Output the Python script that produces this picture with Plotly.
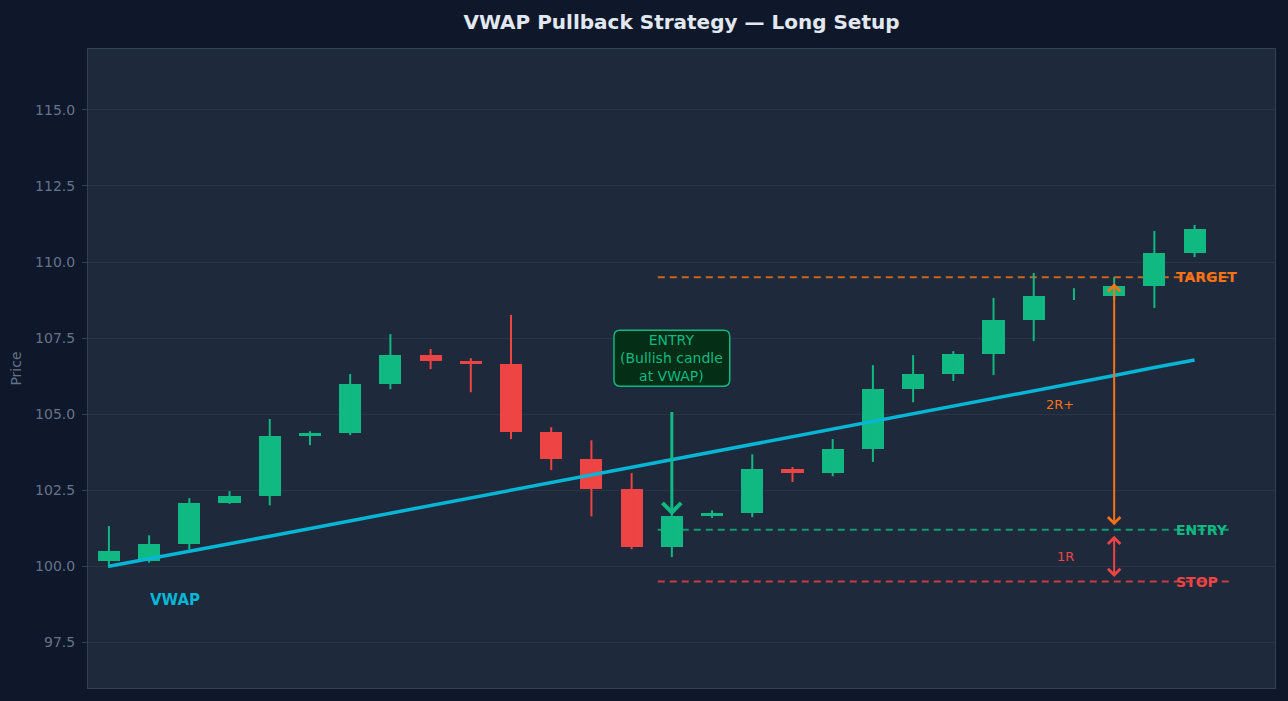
import plotly.graph_objects as go

# Candle data (index 0..27)
bar_index = list(range(28))
open_px = [100.16, 100.16, 100.72, 102.08, 102.30, 104.28, 104.37, 105.99, 106.94, 106.74,
           106.64, 104.41, 103.52, 102.53, 100.63, 101.64, 101.75, 103.19, 103.07, 103.85,
           105.82, 106.32, 106.97, 108.09, 108.88, 108.88, 109.21, 110.30]
close_px = [100.49, 100.72, 102.07, 102.30, 104.28, 104.37, 105.99, 106.94, 106.74, 106.64,
            104.41, 103.52, 102.53, 100.63, 101.64, 101.75, 103.19, 103.07, 103.85, 105.82,
            106.32, 106.97, 108.09, 108.88, 108.88, 109.21, 110.30, 111.09]
high_px = [101.32, 101.02, 102.24, 102.47, 104.84, 104.44, 106.32, 107.63, 107.14, 106.84,
           108.26, 104.57, 104.14, 103.06, 101.90, 101.84, 103.68, 103.26, 104.18, 106.61,
           106.94, 107.07, 108.82, 109.64, 109.14, 109.50, 111.02, 111.22]
low_px = [99.95, 100.12, 100.55, 102.05, 102.00, 103.98, 104.31, 105.82, 106.48, 105.72,
          104.18, 103.16, 101.64, 100.56, 100.30, 101.59, 101.61, 102.77, 102.96, 103.43,
          105.39, 106.09, 106.28, 107.40, 108.75, 108.75, 108.49, 110.16]
vwap = [100.00, 100.24, 100.49, 100.74, 100.99, 101.24, 101.49, 101.74, 101.99, 102.24,
        102.50, 102.75, 103.01, 103.26, 103.51, 103.76, 104.01, 104.26, 104.51, 104.77,
        105.02, 105.27, 105.52, 105.77, 106.02, 106.27, 106.53, 106.78]

# Trade levels
entry_idx = 14
entry_level = 101.2
stop_level = 99.5
target_level = 109.5
measure_idx = 25

GREEN = "#10b981"
RED = "#ef4444"
ORANGE = "#f97316"
CYAN = "#06b6d4"
MUTED = "#64748b"
FONT = "DejaVu Sans"

fig = go.Figure()

# Wicks (one scatter per colour, segments split by None)
for color, up in ((GREEN, True), (RED, False)):
    wx, wy = [], []
    for i, o, h, l, c in zip(bar_index, open_px, high_px, low_px, close_px):
        if (c >= o) == up:
            wx += [i, i, None]
            wy += [l, h, None]
    fig.add_trace(go.Scatter(x=wx, y=wy, mode="lines", line=dict(color=color, width=2),
                             showlegend=False, hoverinfo="skip"))

# Bodies
fig.add_trace(go.Bar(
    x=bar_index,
    y=[abs(c - o) for o, c in zip(open_px, close_px)],
    base=[min(o, c) for o, c in zip(open_px, close_px)],
    width=0.55,
    marker=dict(color=[GREEN if c >= o else RED for o, c in zip(open_px, close_px)],
                line=dict(width=0)),
    showlegend=False,
))

# VWAP line
fig.add_trace(go.Scatter(x=bar_index, y=vwap, mode="lines", line=dict(color=CYAN, width=3.5),
                         name="VWAP", showlegend=False))

# Level lines
for level, color in ((target_level, ORANGE), (entry_level, GREEN), (stop_level, RED)):
    fig.add_shape(type="line", x0=13.65, x1=27.9, y0=level, y1=level, layer="below",
                  line=dict(color=color, width=2, dash="7px,5px"), opacity=0.8)

# Rounded box behind the entry label
bx0, bx1, by0, by1 = entry_idx - 1.44, entry_idx + 1.44, 105.92, 107.76
rx, ry = 0.15, 0.2
box_path = (f"M {bx0 + rx},{by1} L {bx1 - rx},{by1} Q {bx1},{by1} {bx1},{by1 - ry} "
            f"L {bx1},{by0 + ry} Q {bx1},{by0} {bx1 - rx},{by0} L {bx0 + rx},{by0} "
            f"Q {bx0},{by0} {bx0},{by0 + ry} L {bx0},{by1 - ry} Q {bx0},{by1} {bx0 + rx},{by1} Z")
fig.add_shape(type="path", path=box_path, layer="above", fillcolor="#052e16",
              line=dict(color=GREEN, width=1.5))

annotations = [
    dict(x=26.5, y=target_level, text="<b>TARGET</b>", xanchor="left", showarrow=False,
         font=dict(color=ORANGE, size=14)),
    dict(x=26.5, y=entry_level, text="<b>ENTRY</b>", xanchor="left", showarrow=False,
         font=dict(color=GREEN, size=14)),
    dict(x=26.5, y=stop_level, text="<b>STOP</b>", xanchor="left", showarrow=False,
         font=dict(color=RED, size=14)),
    dict(x=1.64, y=98.88, text="<b>VWAP</b>", showarrow=False, font=dict(color=CYAN, size=15)),
    dict(x=entry_idx, y=106.84, text="ENTRY<br>(Bullish candle<br>at VWAP)", showarrow=False,
         font=dict(color=GREEN, size=14)),
    # entry arrow
    dict(x=entry_idx, y=101.68, ax=entry_idx, ay=105.12, axref="x", ayref="y", text="",
         showarrow=True, arrowhead=4, arrowsize=1.2, arrowwidth=3, arrowcolor=GREEN),
    # reward and risk arrows
    dict(x=measure_idx, y=101.35, ax=measure_idx, ay=109.35, axref="x", ayref="y", text="",
         showarrow=True, arrowhead=4, startarrowhead=4, arrowside="end+start",
         arrowsize=1.2, startarrowsize=1.2, arrowwidth=2, arrowcolor=ORANGE),
    dict(x=measure_idx, y=99.65, ax=measure_idx, ay=101.05, axref="x", ayref="y", text="",
         showarrow=True, arrowhead=4, startarrowhead=4, arrowside="end+start",
         arrowsize=1.2, startarrowsize=1.2, arrowwidth=2, arrowcolor=RED),
    dict(x=23.66, y=105.33, text="2R+", showarrow=False, font=dict(color=ORANGE, size=13)),
    dict(x=23.78, y=100.33, text="1R", showarrow=False, font=dict(color=RED, size=13)),
]

fig.update_layout(
    width=1288,
    height=701,
    title=dict(text="<b>VWAP Pullback Strategy — Long Setup</b>", x=0.5, xref="paper",
               y=1 - 22 / 701, yref="container", yanchor="middle",
               font=dict(size=20, color="#e2e8f0")),
    font=dict(family=FONT, color=MUTED, size=14),
    paper_bgcolor="#0f172a",
    plot_bgcolor="#1e293b",
    margin=dict(l=88, r=13, t=49, b=13),
    showlegend=False,
    bargap=0,
    annotations=annotations,
)
fig.update_xaxes(range=[-0.52, 29.0], showgrid=False, showticklabels=False, zeroline=False,
                 showline=True, mirror=True, linecolor="#334155", linewidth=1)
fig.update_yaxes(range=[96, 117], dtick=2.5, tick0=0, tickformat=".1f", showgrid=True,
                 gridcolor="#283548", gridwidth=1, zeroline=False, showline=True, mirror=True,
                 linecolor="#334155", linewidth=1, ticks="outside", ticklen=5,
                 tickcolor="#334155", tickfont=dict(color=MUTED, size=14),
                 ticklabelstandoff=4,
                 title=dict(text="Price", font=dict(color=MUTED, size=14), standoff=10))

fig.write_html("out.html", config={"displayModeBar": False},
               post_script="document.body.style.margin = '0';")
